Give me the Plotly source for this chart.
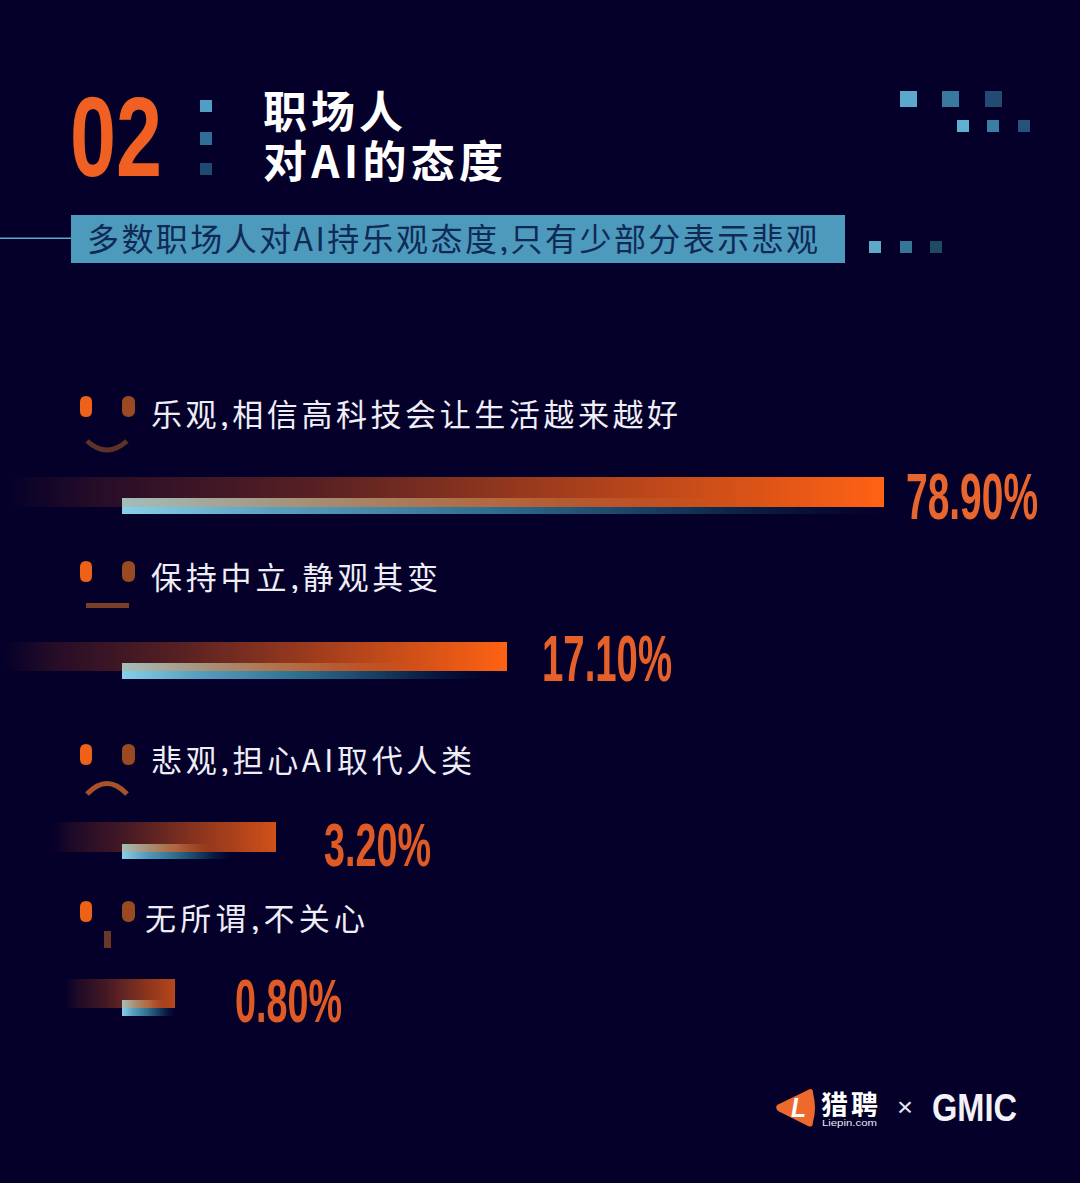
import json
import plotly.graph_objects as go

# ---------- data ----------
categories = ["乐观,相信高科技会让生活越来越好", "保持中立,静观其变", "悲观,担心AI取代人类", "无所谓,不关心"]
value_labels = ["78.90%", "17.10%", "3.20%", "0.80%"]
# drawn bar reach (the bars in the source are not proportional to the percentages)
bar_reach = [884, 507, 276, 175]
sub_bar_reach = [890, 490, 232, 175]

title_lines = ["职场人", "对AI的态度"]
section_no = "02"
subtitle = "多数职场人对AI持乐观态度,只有少部分表示悲观"

# ---------- layout constants ----------
BG = "#05002a"
bar_start = [8, 4, 52, 65]
bar_top = [477, 642, 822, 979]
bar_height = [30, 29, 30, 29]
sub_start = 122
sub_top = [498, 663, 844, 1000]
sub_height = [16, 16, 15, 16]
end_strength = [1.0, 1.0, 0.82, 0.72]
ORANGE = (255, 98, 20)
bg_rgb = (5, 0, 42)

orange_stops = [(0, 0.0), (0.1, 0.13), (0.35, 0.33), (0.7, 0.7), (1, 1.0)]
blue_stops = [(0, (136, 208, 232)), (0.2, (90, 160, 192)), (0.48, (47, 111, 144)), (0.75, (18, 48, 85)), (1, (10, 26, 69))]
blue_alpha = [(0, 1.0), (0.75, 1.0), (1, 0.0)]
over_stops = [(0, (170, 200, 195)), (0.25, (175, 155, 125)), (0.5, (190, 115, 70)), (0.8, (210, 100, 50)), (1, (210, 100, 50))]
over_alpha = [(0, 0.95), (0.25, 0.9), (0.5, 0.8), (0.8, 0.0), (1, 0.0)]


def lerp(stops, t):
    for (a, va), (b, vb) in zip(stops, stops[1:]):
        if t <= b:
            f = (t - a) / (b - a)
            if isinstance(va, tuple):
                return tuple(p + (q - p) * f for p, q in zip(va, vb))
            return va + (vb - va) * f
    return stops[-1][1]


fig = go.Figure()
STEP = 2

# orange bars
for i, reach in enumerate(bar_reach):
    xs, bases, cols = [], [], []
    for x0 in range(bar_start[i], reach, STEP):
        x1 = min(x0 + STEP, reach)
        t = (x0 + x1) / 2
        t = (t - bar_start[i]) / (reach - bar_start[i])
        m = lerp(orange_stops, t) * end_strength[i]
        c = tuple(round(b + (o - b) * m) for o, b in zip(ORANGE, bg_rgb))
        xs.append(x1 - x0); bases.append(x0); cols.append("rgb(%d,%d,%d)" % c)
    fig.add_trace(go.Bar(orientation="h", x=xs, base=bases, y=[bar_top[i] + bar_height[i] / 2] * len(xs),
                         width=bar_height[i], marker=dict(color=cols, line=dict(width=0)),
                         hoverinfo="skip", showlegend=False))

# blue bars: part below the orange bar, and part laid over it
for i, reach in enumerate(sub_bar_reach):
    split = bar_top[i] + bar_height[i]
    for y0, y1, colors, alpha in [(sub_top[i], split, over_stops, over_alpha),
                                  (split, sub_top[i] + sub_height[i], blue_stops, blue_alpha)]:
        xs, bases, cols = [], [], []
        for x0 in range(sub_start, reach, STEP):
            x1 = min(x0 + STEP, reach)
            t = ((x0 + x1) / 2 - sub_start) / (reach - sub_start)
            c = lerp(colors, t)
            a = lerp(alpha, t)
            xs.append(x1 - x0); bases.append(x0)
            cols.append("rgba(%d,%d,%d,%.3f)" % (c[0], c[1], c[2], a))
        fig.add_trace(go.Bar(orientation="h", x=xs, base=bases, y=[(y0 + y1) / 2] * len(xs),
                             width=y1 - y0, marker=dict(color=cols, line=dict(width=0)),
                             hoverinfo="skip", showlegend=False))

shapes = []


def rect(x0, y0, x1, y1, color):
    shapes.append(dict(type="rect", xref="x", yref="y", x0=x0, y0=y0, x1=x1, y1=y1,
                       fillcolor=color, line=dict(width=0), layer="below"))


def path(d, fill=None, line=None, width=0):
    s = dict(type="path", xref="x", yref="y", path=d, layer="below",
             line=dict(width=width, color=line or "rgba(0,0,0,0)"))
    if fill:
        s["fillcolor"] = fill
    shapes.append(s)


def eye(x0, y0, x1, y1, color):
    r = (x1 - x0) / 2
    xm = (x0 + x1) / 2
    path(f"M{x0},{y0+r} Q{x0},{y0} {xm},{y0} Q{x1},{y0} {x1},{y0+r} L{x1},{y1-r} "
         f"Q{x1},{y1} {xm},{y1} Q{x0},{y1} {x0},{y1-r} Z", fill=color)


# header decorations
rect(200, 100, 212, 112, "#4f9fc4")
rect(200, 132, 212, 145, "#2f6f97")
rect(200, 163, 212, 175, "#1d4a73")
for x, c in zip([900, 942, 985], ["#5aa9cc", "#39799f", "#224a72"]):
    rect(x, 91, x + 17, 107, c)
for x, c in zip([957, 987, 1018], ["#5fb0d0", "#3c7ea3", "#27507a"]):
    rect(x, 120, x + 12, 132, c)
for x, c in zip([869, 900, 930], ["#5fa8c8", "#357596", "#1f4a66"]):
    rect(x, 241, x + 12, 253, c)
rect(0, 237.5, 71, 239, "#5fa8d0")
rect(71, 215, 845, 263, "#4d9abd")

# faces
eye_tops = [396, 561, 744, 901]
for t in eye_tops:
    eye(80, t, 92, t + 21, "#ee6118")
    eye(122, t, 135, t + 21, "#9a4a22")
path("M87,441 Q107,459 127,441", line="#5e3226", width=5)
rect(86, 603, 129, 608, "#7a3f28")
path("M87,794 Q107,773 127,794", line="#a8522a", width=5)
rect(104, 931, 111, 948, "#6a3826")

# logo mark
path("M777,1105 Q775,1108 778,1111 L808,1126 Q813,1128 813,1122 Q817,1108 813,1093 Q813,1087 808,1090 Z", fill="#ee6a2c")

annotations = []
fit = {}
CJK = "Noto Sans CJK SC"
NARROW = "Liberation Sans"


def label(text, x0, x1, yc, size, color, family=CJK, adjust="spacing", bold=False, italic=False, box=1.12):
    t = text
    if bold:
        t = f"<b>{t}</b>"
    if italic:
        t = f"<i>{t}</i>"
    annotations.append(dict(text=t, x=(x0 + x1) / 2, y=yc, xref="x", yref="y",
                            xanchor="center", yanchor="middle", showarrow=False,
                            width=x1 - x0 + 4, height=round(size * box), borderpad=0,
                            font=dict(family=family, size=size, color=color)))
    fit[text] = [x1 - x0, adjust]


label(section_no, 70, 162, 136, 114, "#f06022", NARROW, "spacingAndGlyphs", True)
label(title_lines[0], 263, 403, 108, 44, "#ffffff", CJK, "spacing", True)
label(title_lines[1], 263, 503, 158, 44, "#ffffff", CJK, "spacing", True)
label(subtitle, 87, 818, 237, 32, "#0f2a55")

label_pos = [(151, 678, 412), (151, 438, 575), (151, 472, 758), (145, 365, 916)]
for text, (a, b, y) in zip(categories, label_pos):
    label(text, a, b, y, 31, "#eeeef6")

value_pos = [(906, 1038, 496, 65), (542, 672, 658, 65), (324, 431, 844, 62), (235, 342, 1000, 62)]
value_cols = ["#e8652e", "#e6602a", "#e05a25", "#e05a25"]
for text, (a, b, y, s), c in zip(value_labels, value_pos, value_cols):
    label(text, a, b, y, s, c, NARROW, "spacingAndGlyphs", True)

# footer logo texts
label("L", 791, 806, 1108, 27, "#ffffff", "Liberation Sans", "spacingAndGlyphs", True, True)
label("猎聘", 821, 878, 1103, 27, "#ffffff", CJK, "spacing", True, box=1.0)
label("Liepin.com", 822, 877, 1122, 9.5, "#e8e8f0", "Liberation Sans", "spacingAndGlyphs", box=1.2)
label("×", 897, 913, 1106, 26, "#e8e8f0", "Liberation Sans", "spacingAndGlyphs")
label("GMIC", 932, 1017, 1107, 39, "#f2f2f8", "Liberation Sans", "spacingAndGlyphs", True)

fig.update_layout(
    width=1080, height=1183, margin=dict(l=0, r=0, t=0, b=0, pad=0),
    paper_bgcolor=BG, plot_bgcolor=BG, barmode="overlay", showlegend=False,
    xaxis=dict(range=[0, 1080], visible=False, fixedrange=True),
    yaxis=dict(range=[1183, 0], visible=False, fixedrange=True),
    shapes=shapes, annotations=annotations,
)

post = """
(function(){
var fit = %s;
document.documentElement.style.margin = '0';
document.body.style.margin = '0';
document.body.style.background = '%s';
var gd = document.getElementById('{plot_id}');
function apply(){
  gd.querySelectorAll('text.annotation-text').forEach(function(t){
    var k = t.textContent;
    if (fit[k]) { t.setAttribute('textLength', fit[k][0]); t.setAttribute('lengthAdjust', fit[k][1]); }
  });
}
apply();
if (gd.on) gd.on('plotly_afterplot', apply);
setTimeout(apply, 100);
})();
""" % (json.dumps(fit, ensure_ascii=False), BG)

fig.write_html("out.html", post_script=post, config=dict(displayModeBar=False))
